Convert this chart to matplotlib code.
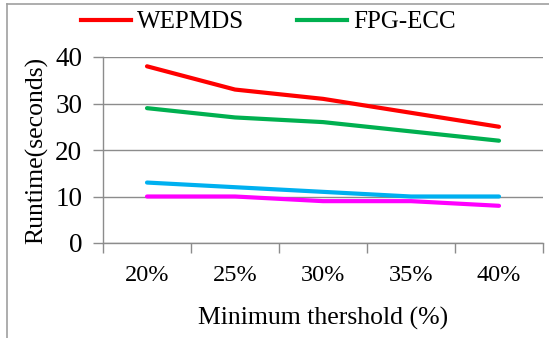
import matplotlib
matplotlib.use("Agg")
import matplotlib.pyplot as plt
from matplotlib.lines import Line2D

plt.rcParams['font.family'] = ['Liberation Serif', 'DejaVu Serif']

categories = ["20%", "25%", "30%", "35%", "40%"]
wepmds = [38, 33, 31, 28, 25]
fpg_ecc = [29, 27, 26, 24, 22]
series_blue = [13, 12, 11, 10, 10]
series_magenta = [10, 10, 9, 9, 8]
y_ticks = [0, 10, 20, 30, 40]

fig = plt.figure(figsize=(5.49, 3.38), dpi=100)
ax = fig.add_axes([103 / 549, 1 - 243 / 338, 440 / 549, 186 / 338])

x = list(range(len(categories)))
lw = 3.0
ax.plot(x, series_blue, color="#00B0F0", lw=lw, solid_capstyle="round", zorder=3)
ax.plot(x, series_magenta, color="#FF00FF", lw=lw, solid_capstyle="round", zorder=3)
ax.plot(x, fpg_ecc, color="#00B050", lw=lw, solid_capstyle="round", label="FPG-ECC", zorder=4)
ax.plot(x, wepmds, color="#FF0000", lw=lw, solid_capstyle="round", label="WEPMDS", zorder=4)

ax.set_xlim(-0.5, len(categories) - 0.5)
ax.set_ylim(0, 40)
ax.set_yticks(y_ticks)
ax.set_xticks(x)
ax.set_xticklabels(categories)
ax.set_xticks([i - 0.5 for i in range(len(categories) + 1)], minor=True)

grid_c = "#8C8C8C"
for s in ["top", "right"]:
    ax.spines[s].set_visible(False)
ax.spines["left"].set_color(grid_c)
ax.spines["bottom"].set_color(grid_c)
ax.spines["left"].set_linewidth(1.0)
ax.spines["bottom"].set_linewidth(1.0)
ax.yaxis.grid(True, color=grid_c, lw=1.0)
ax.set_axisbelow(True)

ax.tick_params(axis="y", length=7, width=1.0, color=grid_c, labelsize=19.5, pad=8)
ax.tick_params(axis="x", which="major", length=0, labelsize=17.5, pad=16)
ax.tick_params(axis="x", which="minor", length=7, width=1.0, color=grid_c)

ax.set_ylabel("Runtime(seconds)", fontsize=18.5, labelpad=5)
ax.set_xlabel("Minimum thershold (%)", fontsize=18.5, labelpad=15)

handles = [Line2D([], [], color="#FF0000", lw=lw), Line2D([], [], color="#00B050", lw=lw)]
fig.legend(handles, ["WEPMDS", "FPG-ECC"], loc="center", bbox_to_anchor=(268 / 549, 1 - 22 / 338),
           ncol=2, frameon=False, fontsize=18, handlelength=2.0, handletextpad=0.25,
           columnspacing=2.1, borderpad=0, borderaxespad=0)

# partial frame on the top and left edges
fig.add_artist(Line2D([7 / 549, 1], [1 - 4 / 338, 1 - 4 / 338], color="#A0A0A0", lw=1.2,
                      transform=fig.transFigure))
fig.add_artist(Line2D([7 / 549, 7 / 549], [0, 1 - 4 / 338], color="#A0A0A0", lw=1.2,
                      transform=fig.transFigure))

fig.savefig("out.png", dpi=100)
